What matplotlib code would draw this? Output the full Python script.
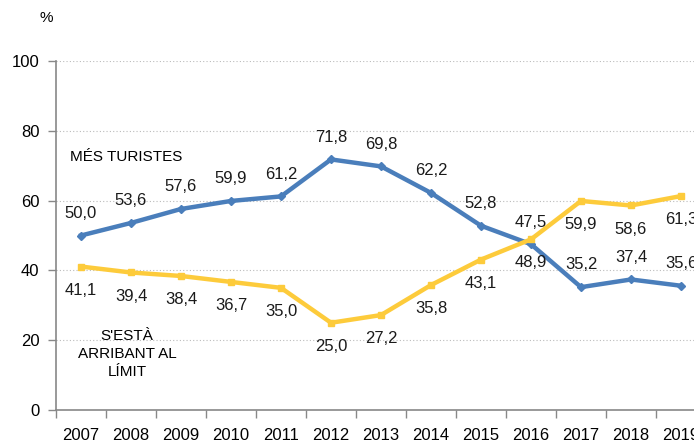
import numpy as np
import matplotlib
matplotlib.use("Agg")
import matplotlib.pyplot as plt

plt.rcParams['font.family'] = ['Liberation Sans', 'DejaVu Sans']

# data
years = ['2007', '2008', '2009', '2010', '2011', '2012', '2013',
         '2014', '2015', '2016', '2017', '2018', '2019']
mes_turistes = [50.0, 53.6, 57.6, 59.9, 61.2, 71.8, 69.8, 62.2, 52.8, 47.5, 35.2, 37.4, 35.6]
limit = [41.1, 39.4, 38.4, 36.7, 35.0, 25.0, 27.2, 35.8, 43.1, 48.9, 59.9, 58.6, 61.3]

blue = '#4A7EBB'
yellow = '#FDCB3B'

fig = plt.figure(figsize=(6.94, 4.45), dpi=100)
ax = fig.add_axes([56 / 694, 35 / 445, 650 / 694, 349 / 445])

x = np.arange(len(years))
ax.plot(x, mes_turistes, color=blue, linewidth=3.2, marker='D', markersize=4.5,
        markerfacecolor=blue, markeredgecolor=blue, zorder=3)
ax.plot(x, limit, color=yellow, linewidth=3.2, marker='s', markersize=5,
        markerfacecolor=yellow, markeredgecolor=yellow, zorder=3)

def fmt(v):
    return ('%.1f' % v).replace('.', ',')

# blue labels above the points, yellow labels below
for i in range(len(years)):
    ax.annotate(fmt(mes_turistes[i]), (x[i], mes_turistes[i]), xytext=(0, 16),
                textcoords='offset points', ha='center', va='center', fontsize=12,
                color='#1a1a1a')
    ax.annotate(fmt(limit[i]), (x[i], limit[i]), xytext=(0, -17),
                textcoords='offset points', ha='center', va='center', fontsize=12,
                color='#1a1a1a')

ax.set_xlim(-0.5, len(years) - 0.5)
ax.set_ylim(0, 100)
ax.set_yticks([0, 20, 40, 60, 80, 100])
ax.yaxis.grid(True, linestyle=(0, (1, 2)), color='#bbbbbb', linewidth=0.8)
ax.set_axisbelow(True)

ax.set_xticks(x)
ax.set_xticklabels(years, fontsize=12)
ax.set_xticks(np.arange(-0.5, len(years), 1.0), minor=True)
ax.tick_params(axis='x', which='major', length=0, pad=13)
ax.tick_params(axis='x', which='minor', length=6, color='#888888', width=1)
ax.tick_params(axis='y', length=6, color='#888888', width=1, labelsize=12, pad=6)

for s in ['top', 'right']:
    ax.spines[s].set_visible(False)
for s in ['left', 'bottom']:
    ax.spines[s].set_color('#888888')
    ax.spines[s].set_linewidth(1.2)

fig.text(46 / 694, 1 - 18 / 445, '%', ha='center', va='center', fontsize=11)
ax.text(0.9, 72.5, 'MÉS TURISTES', ha='center', va='center', fontsize=11)
ax.text(0.92, 16, "S'ESTÀ\nARRIBANT AL\nLÍMIT", ha='center', va='center',
        fontsize=11, linespacing=1.35)

fig.savefig('out.png', dpi=100)
